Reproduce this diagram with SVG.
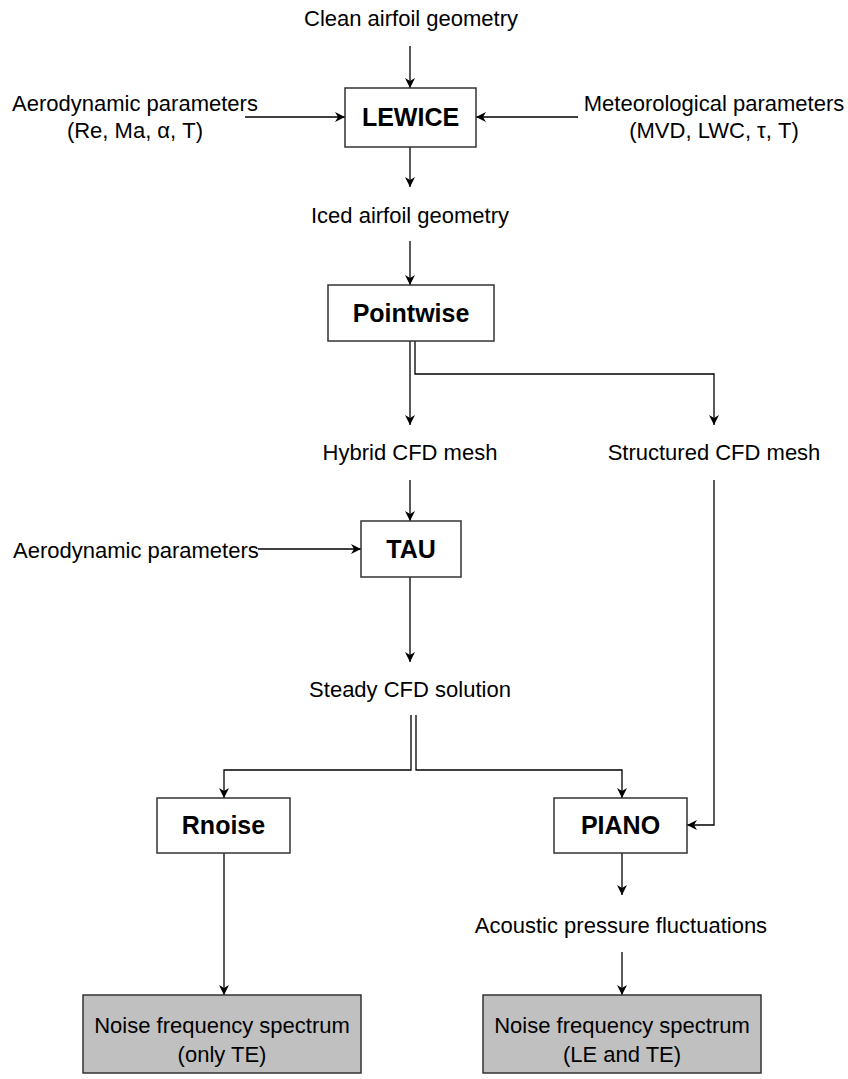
<svg xmlns="http://www.w3.org/2000/svg" width="848" height="1079" viewBox="0 0 848 1079">
<style>
text{font-family:"Liberation Sans",Arial,sans-serif;fill:#000}
.t{font-size:22px;text-anchor:middle}
.b{font-size:25px;font-weight:bold;text-anchor:middle}
.box{fill:#fff;stroke:#333;stroke-width:1.5}
.gbox{fill:#c0c0c0;stroke:#333;stroke-width:1.5}
.c{fill:none;stroke:#000;stroke-width:1.3;marker-end:url(#ah)}
.l{fill:none;stroke:#000;stroke-width:1.3}
</style>
<defs>
<marker id="ah" markerWidth="12" markerHeight="12" refX="10" refY="5" orient="auto" markerUnits="userSpaceOnUse">
<path d="M0,0 L10,5 L0,10 L3,5 Z" fill="#000"/>
</marker>
</defs>
<rect width="848" height="1079" fill="#fff"/>
<g id="connectors">
<path class="c" d="M410,46 V88"/>
<path class="c" d="M245,117 H345"/>
<path class="c" d="M578,117 H476"/>
<path class="c" d="M410,147 V187"/>
<path class="c" d="M410,241 V285"/>
<path class="c" d="M410,341 V425"/>
<path class="c" d="M415,341 V374 H714 V425"/>
<path class="c" d="M410,480 V521"/>
<path class="c" d="M258,549 H361"/>
<path class="c" d="M410,577 V662"/>
<path class="c" d="M411,715 V770 H224 V798"/>
<path class="c" d="M416,715 V770 H622 V798"/>
<path class="c" d="M714,480 V825 H687"/>
<path class="c" d="M224,853 V995"/>
<path class="c" d="M622,853 V895"/>
<path class="c" d="M622,952 V995"/>
</g>
<g id="clean"><text class="t" x="411" y="26">Clean airfoil geometry</text></g>
<g id="aero1"><text class="t" x="135" y="111">Aerodynamic parameters</text><text class="t" x="135" y="138">(Re, Ma, α, T)</text></g>
<g id="meteo"><text class="t" x="714" y="111">Meteorological parameters</text><text class="t" x="714" y="138">(MVD, LWC, τ, T)</text></g>
<g id="lewice"><rect class="box" x="345" y="88" width="131" height="59"/><text class="b" x="410.5" y="126">LEWICE</text></g>
<g id="iced"><text class="t" x="410" y="223">Iced airfoil geometry</text></g>
<g id="pointwise"><rect class="box" x="328" y="285" width="166" height="56"/><text class="b" x="411" y="322">Pointwise</text></g>
<g id="hybrid"><text class="t" x="410" y="460">Hybrid CFD mesh</text></g>
<g id="structured"><text class="t" x="714" y="460">Structured CFD mesh</text></g>
<g id="aero2"><text font-size="22" x="13" y="558">Aerodynamic parameters</text></g>
<g id="tau"><rect class="box" x="361" y="521" width="100" height="56"/><text class="b" x="411" y="558">TAU</text></g>
<g id="steady"><text class="t" x="410" y="697">Steady CFD solution</text></g>
<g id="rnoise"><rect class="box" x="157" y="798" width="133" height="55"/><text class="b" x="223.5" y="834">Rnoise</text></g>
<g id="piano"><rect class="box" x="554" y="798" width="133" height="55"/><text class="b" x="620.5" y="834">PIANO</text></g>
<g id="acoustic"><text class="t" x="621" y="933">Acoustic pressure fluctuations</text></g>
<g id="spec1"><rect class="gbox" x="83" y="995" width="278" height="78"/><text class="t" x="222" y="1033">Noise frequency spectrum</text><text class="t" x="222" y="1062">(only TE)</text></g>
<g id="spec2"><rect class="gbox" x="483" y="995" width="278" height="78"/><text class="t" x="622" y="1033">Noise frequency spectrum</text><text class="t" x="622" y="1062">(LE and TE)</text></g>
</svg>
